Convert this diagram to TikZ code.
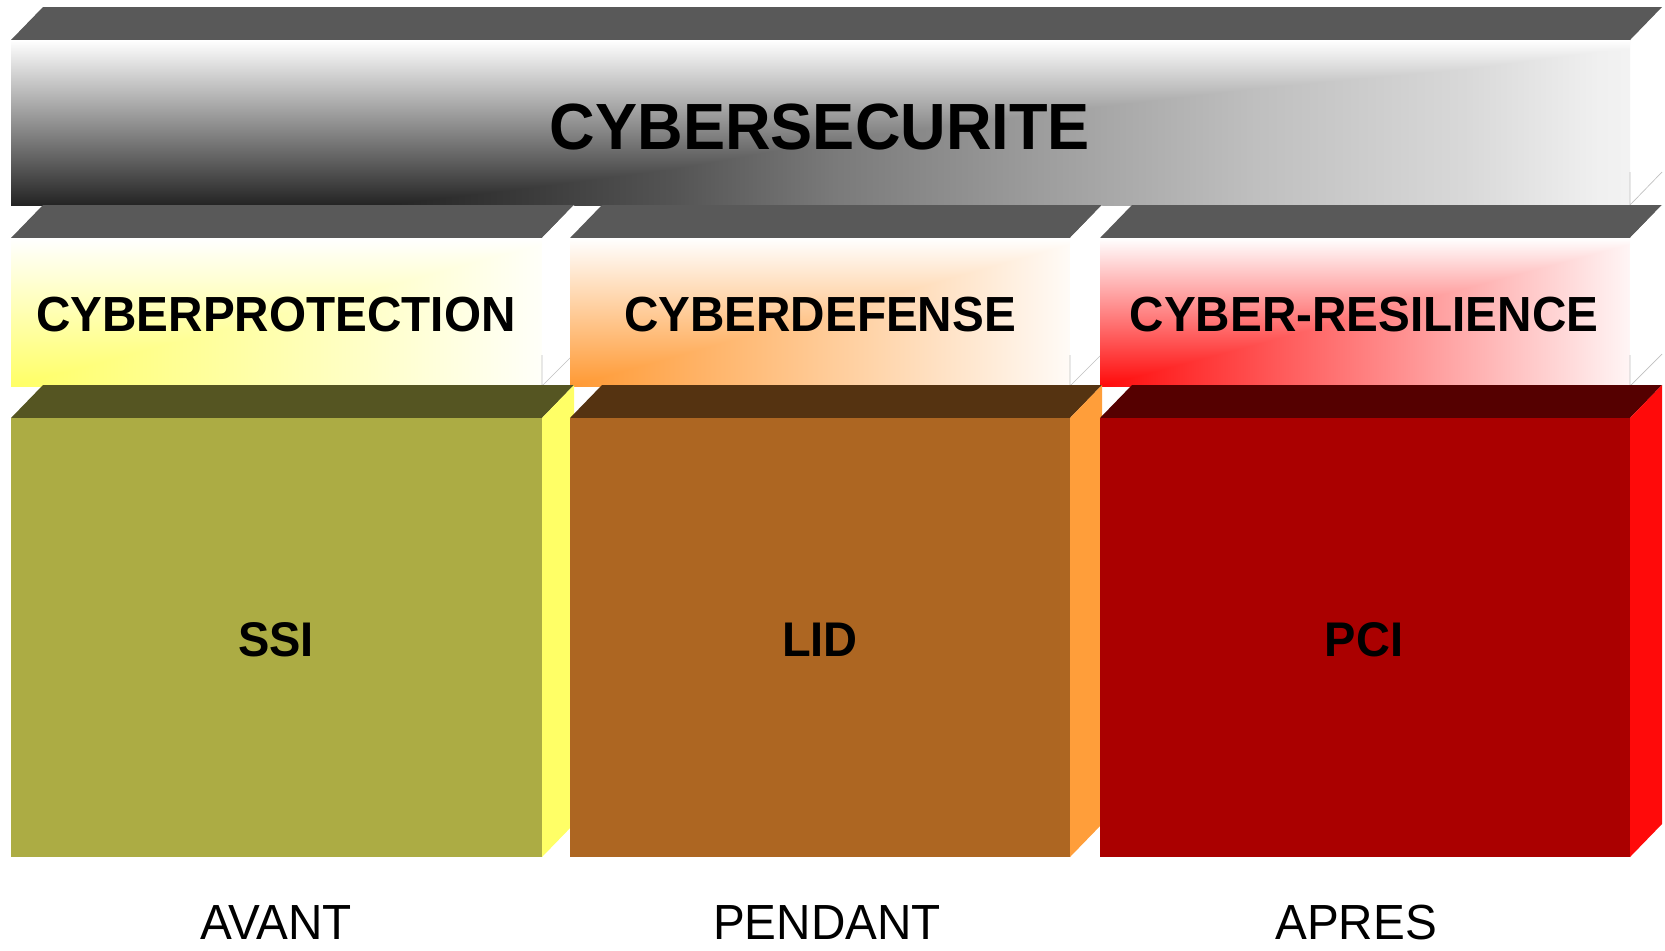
\documentclass[tikz,border=0pt]{standalone}
\usepackage{fontspec}
\setmainfont{Liberation Sans}[FakeStretch=0.966]

% face colours
\definecolor{slabtop}{HTML}{595959}
\definecolor{olivefront}{HTML}{ACAC44}
\definecolor{olivetop}{HTML}{555522}
\definecolor{oliveside}{HTML}{FFFF66}
\definecolor{brownfront}{HTML}{AD6622}
\definecolor{browntop}{HTML}{553311}
\definecolor{brownside}{HTML}{FF9E3A}
\definecolor{redfront}{HTML}{AA0000}
\definecolor{redtop}{HTML}{550000}
\definecolor{redside}{HTML}{FF0A0A}
\definecolor{hdyellow}{HTML}{FFFF66}
\definecolor{hdorange}{HTML}{FF9933}
\definecolor{hdred}{HTML}{FF0A0A}
\definecolor{edgegray}{HTML}{C0C0C0}

% dark-to-light sweep of the big top slab (25bp = left edge, 75bp = right edge)
\pgfdeclarehorizontalshading{barbase}{100bp}{%
  color(0bp)=(black); color(25bp)=(black); color(34.5bp)=(black!90);
  color(41bp)=(black!77); color(45.5bp)=(black!67); color(50.5bp)=(black!52);
  color(57bp)=(black!38); color(63.5bp)=(black!25); color(70bp)=(black!15);
  color(74bp)=(black!6); color(75bp)=(black!5); color(100bp)=(black!5)}

% header slab: top face, shaded front (two sweeps, lighter one wins), white side
\newcommand\headerslab[3]{%
  \fill[slabtop] (#1,238) -- (#1+32,205) -- (#2+32,205) -- (#2,238) -- cycle;
  \shade[left color=#3, right color=#3!4!white] (#1,238) rectangle (#2,386);
  \begin{scope}[blend mode=lighten]
    \shade[top color=white, bottom color=#3] (#1,238) rectangle (#2,386);
  \end{scope}
  \fill[white] (#2,238) -- (#2+32,205) -- (#2+32,353) -- (#2,386) -- cycle;
  \draw[hairline] (#2,355) -- (#2,386) -- (#2+32,354);}

% solid block: top face, front face, side face
\newcommand\solidblock[5]{%
  \fill[#4] (#1,418) -- (#1+32,385) -- (#2+32,385) -- (#2,418) -- cycle;
  \fill[#3] (#1,418) rectangle (#2,857);
  \fill[#5] (#2,418) -- (#2+32,385) -- (#2+32,824) -- (#2,857) -- cycle;}

\begin{document}
\begin{tikzpicture}[x=0.75pt, y=-0.75pt,
  hairline/.style={draw=edgegray, line width=0.5pt},
  titletext/.style={font=\fontsize{49}{52}\selectfont\bfseries},
  headtext/.style={font=\fontsize{37}{40}\selectfont\bfseries},
  blocktext/.style={font=\fontsize{36.5}{40}\selectfont\bfseries},
  phasetext/.style={font=\fontsize{37}{40}\selectfont, anchor=base, inner sep=0pt}]

\useasboundingbox (0,0) rectangle (1665,950);
\fill[white] (0,0) rectangle (1665,950);

% top slab
\fill[slabtop] (11,40) -- (43,7) -- (1662,7) -- (1630,40) -- cycle;
\shade[shading=barbase] (11,40) rectangle (1630,205);
\begin{scope}[blend mode=lighten]
  \shade[top color=white, bottom color=black!86] (11,40) rectangle (1630,205);
\end{scope}
\draw[hairline] (1630,172) -- (1630,205) -- (1662,172);

% header slabs
\headerslab{11}{542}{hdyellow}
\headerslab{570}{1070}{hdorange}
\headerslab{1100}{1630}{hdred}

% solid blocks
\solidblock{11}{542}{olivefront}{olivetop}{oliveside}
\solidblock{570}{1070}{brownfront}{browntop}{brownside}
\solidblock{1100}{1630}{redfront}{redtop}{redside}

% texts
\node[titletext] (cyber) at (820,127) {CYBERSECURITE};
\node[headtext] (protect) at (276,315) {CYBERPROTECTION};
\node[headtext] (defense) at (820,315) {CYBERDEFENSE};
\node[headtext] (resil) at (1364,315) {CYBER-RESILIENCE};
\node[blocktext] (ssi) at (276,640) {SSI};
\node[blocktext] (lid) at (820,640) {LID};
\node[blocktext] (pci) at (1364,640) {PCI};
\node[phasetext] (avant) at (276,939) {AVANT};
\node[phasetext] (pendant) at (827,939) {PENDANT};
\node[phasetext] (apres) at (1356,939) {APRES};
\end{tikzpicture}
\end{document}
